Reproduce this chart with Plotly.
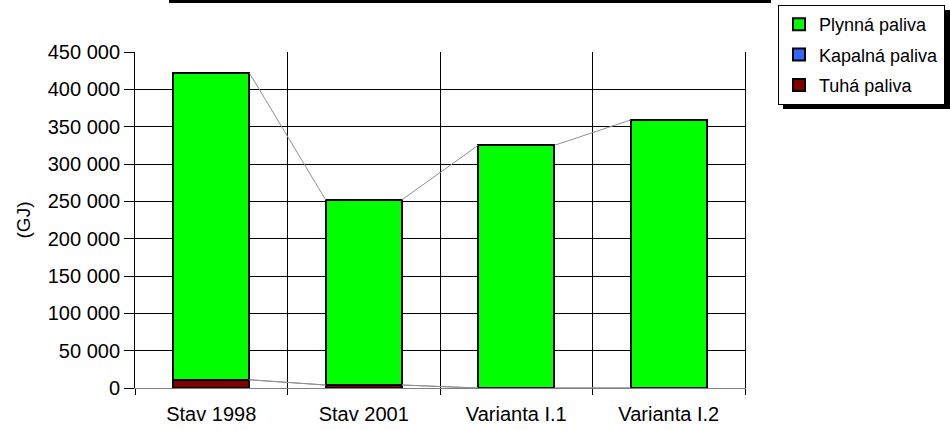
import plotly.graph_objects as go

# ---- data ----
categories = ["Stav 1998", "Stav 2001", "Varianta I.1", "Varianta I.2"]
series_names = ["Tuhá paliva", "Kapalná paliva", "Plynná paliva"]  # stacking order (bottom -> top)
tuha = [11000, 4000, 0, 0]
kapalna = [0, 0, 0, 0]
plynna = [411000, 248000, 325000, 359000]
y_tick_values = [0, 50000, 100000, 150000, 200000, 250000, 300000, 350000, 400000, 450000]
y_title = "(GJ)"

series_values = [tuha, kapalna, plynna]
colors = ["#800000", "#3366FF", "#00FF00"]

W, H = 950, 430
L, R, T, B = 135, 205, 52, 42
PW, PH = W - L - R, H - T - B
BAR_W = 0.5
FONT = "Liberation Sans, Arial, sans-serif"
FS = 20


def px_x(px):
    return (px - L) / PW


def px_y(py):
    return (H - B - py) / PH


x_pos = list(range(len(categories)))
fig = go.Figure()

# series lines (Excel style) connecting cumulative tops between adjacent bars
cum = [0] * len(categories)
cum_tops = []
for vals in series_values:
    cum = [c + v for c, v in zip(cum, vals)]
    cum_tops.append(cum)
for tops in cum_tops:
    xs, ys = [], []
    for i in range(len(categories) - 1):
        xs += [x_pos[i] + BAR_W / 2, x_pos[i + 1] - BAR_W / 2, None]
        ys += [tops[i], tops[i + 1], None]
    fig.add_trace(go.Scatter(x=xs, y=ys, mode="lines", line=dict(color="#909090", width=1),
                             showlegend=False, hoverinfo="skip"))

n = len(series_names)
for k, (name, vals, col) in enumerate(zip(series_names, series_values, colors)):
    fig.add_trace(go.Bar(x=x_pos, y=vals, name=name, width=BAR_W, legendgroup=name,
                         legendrank=n - k,
                         marker=dict(color=col, line=dict(color="black", width=2))))

fig.update_layout(
    width=W, height=H,
    margin=dict(l=L, r=R, t=T, b=B, pad=0, autoexpand=False),
    barmode="stack",
    plot_bgcolor="white", paper_bgcolor="white",
    font=dict(family=FONT, size=FS, color="black"),
    separators=". ",
    legend=dict(xref="container", yref="container",
                x=778 / W, y=1 - 5 / H, xanchor="left", yanchor="top",
                bordercolor="black", borderwidth=1, bgcolor="white",
                traceorder="grouped", font=dict(size=FS - 2),
                itemwidth=30, tracegroupgap=4),
    xaxis=dict(range=[-0.5, len(categories) - 0.5], tickmode="array", tickvals=x_pos,
               ticktext=categories, ticks="outside", ticklen=8, tickcolor="rgba(0,0,0,0)",
               showgrid=False, zeroline=False,
               showline=True, linecolor="#808080", linewidth=1,
               tickfont=dict(size=FS),
               minor=dict(tickmode="array",
                          tickvals=[i - 0.5 for i in range(len(categories) + 1)],
                          ticks="outside", ticklen=6, tickcolor="black",
                          showgrid=True, gridcolor="black", gridwidth=1)),
    yaxis=dict(range=[0, max(y_tick_values)], tickmode="array", tickvals=y_tick_values,
               tickformat=",d", ticks="outside", ticklen=10, tickcolor="black",
               showgrid=True, gridcolor="black", gridwidth=1, zeroline=False,
               showline=True, linecolor="black", linewidth=1, mirror=True,
               tickfont=dict(size=FS),
               title=dict(text=y_title, standoff=12, font=dict(size=FS - 1))),
    shapes=[
        # cropped frame edge at top
        dict(type="rect", xref="paper", yref="paper",
             x0=px_x(169), x1=px_x(771), y0=px_y(0), y1=px_y(3),
             fillcolor="black", line=dict(width=0), layer="above"),
        # legend shadow
        dict(type="rect", xref="paper", yref="paper",
             x0=px_x(783), x1=px_x(950), y0=px_y(10), y1=px_y(109),
             fillcolor="black", line=dict(width=0), layer="above"),
    ],
)

fig.write_html(
    "out.html",
    config={"displayModeBar": False},
    post_script=(
        "document.body.style.margin='0';"
        "var gd=document.getElementById('{plot_id}');"
        "gd.style.position='fixed';gd.style.left='0px';gd.style.top='0px';"
    ),
)
